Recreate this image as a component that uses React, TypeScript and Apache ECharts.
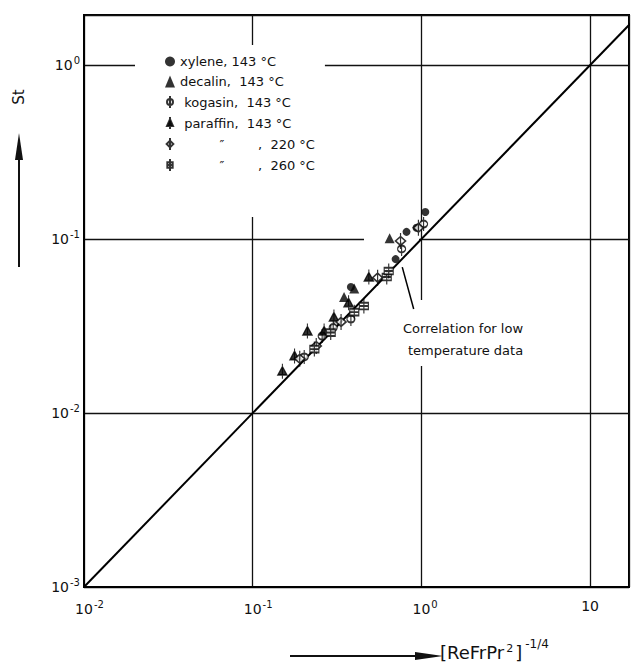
import React, { useEffect, useRef } from "react";
import * as echarts from "echarts";

// ---- data ----
const xyleneX = [0.382, 0.703, 0.816, 0.935, 1.055];
const xyleneSt = [0.053, 0.0767, 0.11, 0.116, 0.143];
const decalinX = [0.348, 0.4, 0.648];
const decalinSt = [0.0464, 0.052, 0.101];
const kogasinX = [0.202, 0.258, 0.3, 0.382, 0.763, 1.03];
const kogasinSt = [0.021, 0.0277, 0.031, 0.0347, 0.0877, 0.122];
const paraffinX = [0.15, 0.177, 0.211, 0.265, 0.303, 0.37, 0.488];
const paraffinSt = [0.0174, 0.0213, 0.0296, 0.0296, 0.0356, 0.043, 0.0605];
const p220X = [0.19, 0.238, 0.334, 0.55, 0.752, 0.96];
const p220St = [0.0205, 0.0243, 0.0334, 0.06, 0.0975, 0.116];
const p260X = [0.232, 0.29, 0.4, 0.456, 0.623, 0.64];
const p260St = [0.0233, 0.029, 0.038, 0.0412, 0.0605, 0.0655];
// correlation for low temperature data: St = 0.1 * x
const corrX = [0.01, 20];
const corrSt = [0.001, 2];

const seriesNames = [
  "xylene, 143 °C",
  "decalin, 143 °C",
  "kogasin, 143 °C",
  "paraffin, 143 °C",
  "ditto, 220 °C",
  "ditto, 260 °C",
];

const FONT = "'DejaVu Sans', 'Liberation Sans', sans-serif";

const PHI = "path://M0,0 L0,16 M4,8 A4,4 0 1,1 -4,8 A4,4 0 1,1 4,8";
const PARAFFIN = "path://M5,0 L5,16 M5,3 L9,12 L1,12 Z";
const DIAMOND = "path://M5,0 L5,18 M5,4 L10,9 L5,14 L0,9 Z";
const SQUARE = "path://M5,0 L5,18 M1,5 L9,5 L9,13 L1,13 Z M1,9 L9,9";

const zip = (a: number[], b: number[]) => a.map((v, i) => [v, b[i]]);

const expOf = (v: number) => {
  const e = Math.round(Math.log10(v));
  return Math.abs(Math.log10(v) - e) < 1e-6 ? e : null;
};

export default function App() {
  const ref = useRef<HTMLDivElement>(null);
  useEffect(() => {
    document.body.style.margin = "0";
    if (!ref.current) return;
    const chart = echarts.init(ref.current, null, { renderer: "svg" });
    const supRich = {
      sup: { fontSize: 10, fontFamily: FONT, color: "#111", padding: [0, 0, 10, 1] },
      h: { fontSize: 10, fontFamily: FONT, color: "transparent", padding: [0, 1, 10, 0] },
    };
    const legendFmt: Record<string, string> = {
      "xylene, 143 °C": "xylene, 143 °C",
      "decalin, 143 °C": "decalin,  143 °C",
      "kogasin, 143 °C": " kogasin,  143 °C",
      "paraffin, 143 °C": " paraffin,  143 °C",
      "ditto, 220 °C": "{s| }{d|\u2033}{e| },  220 °C",
      "ditto, 260 °C": "{s| }{d|\u2033}{e| },  260 °C",
    };
    const scatterBase = {
      type: "scatter",
      z: 3,
    };
    const option: any = {
      animation: false,
      backgroundColor: "#fff",
      grid: {
        left: 84,
        right: 3,
        top: 15,
        bottom: 85,
        show: true,
        borderColor: "#000",
        borderWidth: 2,
        backgroundColor: "transparent",
      },
      xAxis: {
        type: "log",
        logBase: 10,
        min: 0.01,
        max: 17,
        axisLine: { show: true, onZero: false, lineStyle: { color: "#000", width: 2 } },
        axisTick: { show: false },
        minorTick: { show: false },
        splitLine: { show: true, lineStyle: { color: "#111", width: 1.3 } },
        axisLabel: {
          margin: 12,
          color: "#111",
          fontFamily: FONT,
          fontSize: 14,
          formatter: (v: number) => {
            const e = expOf(v);
            if (e === null) return "";
            if (e === 1) return "10";
            return `{h|${e}}10{sup|${e}}`;
          },
          rich: supRich,
        },
      },
      yAxis: {
        type: "log",
        logBase: 10,
        min: 0.001,
        max: 1.94,
        axisLine: { show: true, onZero: false, lineStyle: { color: "#000", width: 2 } },
        axisTick: { show: false },
        minorTick: { show: false },
        splitLine: { show: true, lineStyle: { color: "#111", width: 1.3 } },
        axisLabel: {
          margin: 4,
          color: "#111",
          fontFamily: FONT,
          fontSize: 14,
          formatter: (v: number) => {
            const e = expOf(v);
            if (e === null) return "";
            return `10{sup|${e}}`;
          },
          rich: supRich,
        },
      },
      legend: {
        orient: "vertical",
        left: 135,
        top: 45,
        padding: [10, 10, 45, 30],
        backgroundColor: "#fff",
        itemWidth: 10,
        itemHeight: 12,
        itemGap: 7,
        symbolKeepAspect: true,
        data: seriesNames,
        formatter: (name: string) => legendFmt[name] || name,
        textStyle: {
          fontFamily: FONT,
          fontSize: 13,
          color: "#111",
          rich: {
            s: { fontSize: 13, fontFamily: FONT, width: 30 },
            d: { fontSize: 13, fontFamily: FONT, width: 24, align: "center", color: "#111" },
            e: { fontSize: 13, fontFamily: FONT, width: 24 },
          },
        },
      },
      graphic: [
        // erased grid behind the data cluster
        { type: "rect", left: 364, top: 216, z: 1, shape: { width: 55, height: 50 }, style: { fill: "#fff" } },
        // annotation background
        { type: "rect", left: 398, top: 300, z: 1, shape: { width: 170, height: 66 }, style: { fill: "#fff" } },
        {
          type: "text",
          left: 403,
          top: 322,
          z: 5,
          style: {
            text: "Correlation for {f|low}",
            fontFamily: FONT,
            fontSize: 13,
            fill: "#111",
            rich: { f: { fontFamily: FONT, fontSize: 13, color: "#999" } },
          },
        },
        {
          type: "text",
          left: 408,
          top: 344,
          z: 5,
          style: { text: "temperature data", fontFamily: FONT, fontSize: 13, fill: "#111" },
        },
        // y-axis name and arrow
        {
          type: "text",
          x: 19,
          y: 97,
          rotation: Math.PI / 2,
          z: 5,
          style: { text: "St", fontFamily: FONT, fontSize: 15, fill: "#111", align: "center", verticalAlign: "middle" },
        },
        { type: "line", z: 5, shape: { x1: 19, y1: 267, x2: 19, y2: 150 }, style: { stroke: "#111", lineWidth: 2 } },
        { type: "polygon", z: 5, shape: { points: [[19, 133], [23, 160], [15, 160]] }, style: { fill: "#111" } },
        // x-axis name and arrow
        { type: "line", z: 5, shape: { x1: 290, y1: 656, x2: 420, y2: 656 }, style: { stroke: "#111", lineWidth: 2 } },
        { type: "polygon", z: 5, shape: { points: [[443, 656], [415, 652], [415, 660]] }, style: { fill: "#111" } },
        {
          type: "text",
          left: 440,
          top: 638,
          z: 5,
          style: {
            text: "[ReFrPr{s|2}]{p|-1/4}",
            fontFamily: FONT,
            fontSize: 18,
            fill: "#111",
            rich: {
              s: { fontSize: 11, fontFamily: FONT, color: "#111", padding: [0, 2, 8, 2] },
              p: { fontSize: 12, fontFamily: FONT, color: "#111", padding: [0, 0, 16, 3] },
            },
          },
        },
      ],
      series: [
        {
          type: "line",
          name: "correlation",
          data: zip(corrX, corrSt),
          showSymbol: false,
          clip: true,
          silent: true,
          z: 2,
          lineStyle: { color: "#000", width: 2 },
          markLine: {
            silent: true,
            symbol: ["none", "none"],
            label: { show: false },
            lineStyle: { color: "#000", width: 1.5, type: "solid" },
            data: [[{ coord: [0.77, 0.069] }, { coord: [0.9, 0.0396] }]],
          },
        },
        {
          ...scatterBase,
          name: seriesNames[0],
          data: zip(xyleneX, xyleneSt),
          symbol: "circle",
          symbolSize: 8,
          itemStyle: { color: "#000" },
        },
        {
          ...scatterBase,
          name: seriesNames[1],
          data: zip(decalinX, decalinSt),
          symbol: "triangle",
          symbolSize: 10,
          itemStyle: { color: "#000" },
        },
        {
          ...scatterBase,
          name: seriesNames[2],
          data: zip(kogasinX, kogasinSt),
          symbol: PHI,
          symbolSize: [8, 14],
          itemStyle: { color: "#fff", borderColor: "#000", borderWidth: 1.5 },
        },
        {
          ...scatterBase,
          name: seriesNames[3],
          data: zip(paraffinX, paraffinSt),
          symbol: PARAFFIN,
          symbolSize: [9, 15],
          itemStyle: { color: "#000", borderColor: "#000", borderWidth: 1.4 },
        },
        {
          ...scatterBase,
          name: seriesNames[4],
          data: zip(p220X, p220St),
          symbol: DIAMOND,
          symbolSize: [10, 16],
          itemStyle: { color: "#fff", borderColor: "#000", borderWidth: 1.5 },
        },
        {
          ...scatterBase,
          name: seriesNames[5],
          data: zip(p260X, p260St),
          symbol: SQUARE,
          symbolSize: [9, 15],
          itemStyle: { color: "#fff", borderColor: "#000", borderWidth: 1.5 },
        },
      ],
    };
    chart.setOption(option);
    return () => chart.dispose();
  }, []);
  return <div ref={ref} style={{ width: 632, height: 672 }} />;
}
